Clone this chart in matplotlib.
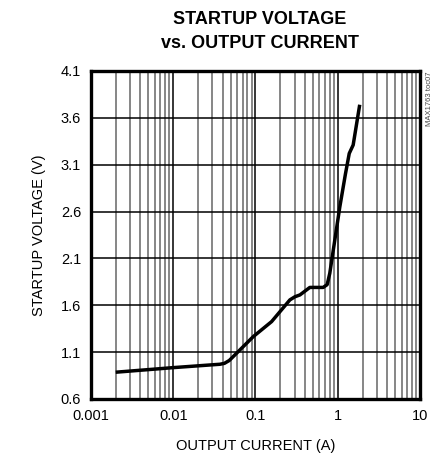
import matplotlib
matplotlib.use("Agg")
import matplotlib.pyplot as plt
from matplotlib.ticker import FixedLocator, NullFormatter

# ==============================
# Data
# ==============================

current_a = [0.002, 0.01, 0.037, 0.042, 0.048, 0.059, 0.094, 0.157, 0.262,
             0.301, 0.347, 0.458, 0.52, 0.665, 0.744, 0.80, 1.06, 1.24, 1.38,
             1.54, 1.85]
startup_v = [0.885, 0.934, 0.97, 0.98, 1.01, 1.088, 1.265, 1.425, 1.657,
             1.69, 1.71, 1.79, 1.79, 1.79, 1.82, 1.94, 2.65, 3.0, 3.22,
             3.31, 3.74]

x_ticks = [0.001, 0.01, 0.1, 1, 10]
x_tick_labels = ["0.001", "0.01", "0.1", "1", "10"]
y_ticks = [0.6, 1.1, 1.6, 2.1, 2.6, 3.1, 3.6, 4.1]
y_tick_labels = ["0.6", "1.1", "1.6", "2.1", "2.6", "3.1", "3.6", "4.1"]

FONT = ["Liberation Sans Narrow", "Liberation Sans", "DejaVu Sans"]
plt.rcParams["font.family"] = FONT

# ==============================
# Plot
# ==============================

fig = plt.figure(figsize=(4.33, 4.58), dpi=100)
ax = fig.add_axes([0.210, 0.129, 0.760, 0.716])

ax.set_xscale("log")
ax.set_xlim(0.001, 10)
ax.set_ylim(0.6, 4.1)

# grid: black decades, grey minor lines
minor = [m * 10.0 ** e for e in range(-3, 1) for m in range(2, 10)]
for xv in minor:
    ax.axvline(xv, color="#666666", lw=1.1, zorder=1)
for xv in x_ticks[1:-1]:
    ax.axvline(xv, color="black", lw=1.1, zorder=1)
for yv in y_ticks[1:-1]:
    ax.axhline(yv, color="black", lw=1.1, zorder=1)

ax.plot(current_a, startup_v, color="black", lw=2.5, zorder=3,
        solid_capstyle="butt", solid_joinstyle="round")

ax.xaxis.set_major_locator(FixedLocator(x_ticks))
ax.xaxis.set_minor_locator(FixedLocator(minor))
ax.xaxis.set_minor_formatter(NullFormatter())
ax.set_xticklabels(x_tick_labels)
ax.set_yticks(y_ticks)
ax.set_yticklabels(y_tick_labels)
ax.tick_params(which="both", length=0, labelsize=10.5, pad=7)

for s in ax.spines.values():
    s.set_linewidth(2.4)

ax.set_xlabel("OUTPUT CURRENT (A)", fontsize=10.5, labelpad=12)
ax.set_ylabel("STARTUP VOLTAGE (V)", fontsize=10.5, labelpad=11)

fig.text(0.600, 0.958, "STARTUP VOLTAGE", ha="center", va="center",
         fontsize=13, fontweight="heavy")
fig.text(0.600, 0.906, "vs. OUTPUT CURRENT", ha="center", va="center",
         fontsize=13, fontweight="heavy")
fig.text(0.993, 0.843, "MAX1763 toc07", ha="center", va="top",
         rotation=90, fontsize=5.5, color="#444444")

fig.savefig("out.png", dpi=100)
